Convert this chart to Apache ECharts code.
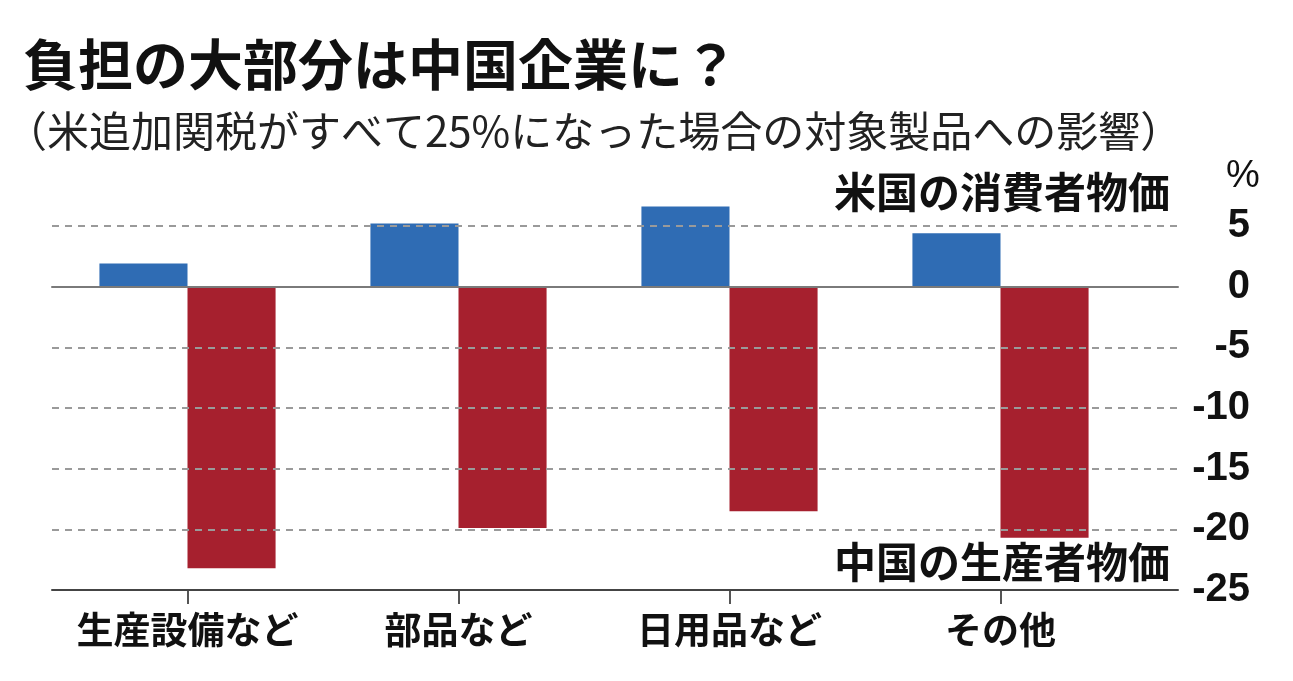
<!DOCTYPE html>
<html>
<head>
<meta charset="utf-8">
<script src="https://cdn.jsdelivr.net/npm/echarts@6/dist/echarts.min.js"></script>
<style>
  html, body { margin: 0; padding: 0; background: #fff; }
  #main { width: 1293px; height: 681px; }
</style>
</head>
<body>
<div id="main"></div>
<script>
// 対象製品カテゴリ
var categories = ['生産設備など', '部品など', '日用品など', 'その他'];
// 米国の消費者物価 (%)
var usCpi = [1.9, 5.2, 6.6, 4.4];
// 中国の生産者物価 (%)
var cnPpi = [-23.2, -19.9, -18.5, -20.7];
var yMin = -25, yMax = 5, yStep = 5;

var jp = '"Noto Sans CJK JP", "Noto Sans", sans-serif';
var num = '"Liberation Sans Narrow", "Liberation Sans", sans-serif';

var chart = echarts.init(document.getElementById('main'));

chart.setOption({
    backgroundColor: '#fff',
    animation: false,
    title: [{
        text: '負担の大部分は中国企業に？',
        left: 18, top: 32,
        textStyle: { fontFamily: jp, fontSize: 55, fontWeight: 'bold', color: '#111' }
    }, {
        text: '（米追加関税がすべて25%になった場合の対象製品への影響）',
        left: 0, top: 105,
        textStyle: { fontFamily: jp, fontSize: 42, fontWeight: 'normal', color: '#222' }
    }],
    grid: [
        { left: 52, right: 115, top: 226, bottom: 91 },
        { left: 52, width: 1084, top: 226, bottom: 91 }
    ],
    xAxis: [{
        gridIndex: 0, type: 'value', min: 0, max: 1, position: 'bottom', z: 5,
        axisLine: { show: true, onZero: false, lineStyle: { color: '#444', width: 2 } },
        axisTick: { show: false }, axisLabel: { show: false }, splitLine: { show: false }
    }, {
        gridIndex: 0, type: 'value', min: 0, max: 1, position: 'top', z: 5,
        axisLine: { show: true, onZero: true, lineStyle: { color: '#7a7a7a', width: 2 } },
        axisTick: { show: false }, axisLabel: { show: false }, splitLine: { show: false }
    }, {
        gridIndex: 1, type: 'category', data: categories, position: 'bottom',
        axisLine: { show: false, onZero: false },
        axisTick: { show: true, alignWithLabel: true, length: 14, lineStyle: { color: '#555', width: 2 } },
        axisLabel: { interval: 0, fontFamily: jp, fontSize: 37, fontWeight: 'bold', color: '#111', margin: 21 }
    }],
    yAxis: [{
        gridIndex: 0, type: 'value', position: 'right', min: yMin, max: yMax, interval: yStep, z: 3,
        axisLine: { show: false, onZero: false }, axisTick: { show: false },
        axisLabel: { fontFamily: num, fontSize: 40, fontWeight: 'bold', color: '#111', align: 'right', margin: 72 },
        splitLine: { show: true, lineStyle: { color: '#9a9a9a', width: 2, type: [7, 6] } }
    }, {
        gridIndex: 1, type: 'value', min: yMin, max: yMax, interval: yStep, show: false,
        axisLine: { onZero: false }
    }],
    series: [{
        name: '米国の消費者物価', type: 'bar', xAxisIndex: 2, yAxisIndex: 1,
        data: usCpi, barWidth: '32.5%', barGap: '0%', clip: false,
        itemStyle: { color: '#2f6cb4' }
    }, {
        name: '中国の生産者物価', type: 'bar', xAxisIndex: 2, yAxisIndex: 1,
        data: cnPpi, barWidth: '32.5%', barGap: '0%', clip: false,
        itemStyle: { color: '#a6202e' }
    }],
    graphic: [{
        type: 'text', right: 123, top: 171,
        style: { text: '米国の消費者物価', font: 'bold 42px ' + jp, fill: '#111' }
    }, {
        type: 'text', right: 123, top: 541,
        style: { text: '中国の生産者物価', font: 'bold 42px ' + jp, fill: '#111' }
    }, {
        type: 'text', left: 1226, top: 158,
        style: { text: '%', font: '38px ' + num, fill: '#111' }
    }]
});
</script>
</body>
</html>
